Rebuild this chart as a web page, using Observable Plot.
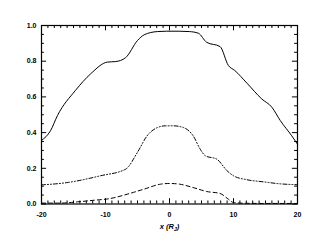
<!DOCTYPE html>
<html><head><meta charset="utf-8">
<script src="https://cdn.jsdelivr.net/npm/d3@7"></script>
<script src="https://cdn.jsdelivr.net/npm/@observablehq/plot@0.6"></script>
<style>body{margin:0;background:#fff}</style>
</head><body><div id="c"></div>
<script>
const solidX = [-20,-18.6,-17.5,-14.7,-12.3,-9.7,-8.4,-6.85,-5.0,-3.95,-1.9,-0.5,1.5,3.1,4.5,5.8,7.9,9.2,10.2,12.1,14.4,16.0,17.3,19.1,20];
const solidY = [0.356,0.41,0.496,0.636,0.73,0.795,0.798,0.82,0.916,0.948,0.966,0.968,0.968,0.966,0.957,0.906,0.882,0.776,0.748,0.677,0.589,0.542,0.468,0.382,0.335];
const dotDashX = [-20,-16,-10.8,-6.85,-5,-3.5,-1.9,-0.6,0.6,2.2,3.7,4.8,5.6,7.4,9.0,10.0,12.1,14.7,17.3,20];
const dotDashY = [0.107,0.12,0.158,0.195,0.29,0.382,0.428,0.438,0.438,0.428,0.382,0.307,0.27,0.251,0.186,0.158,0.136,0.124,0.113,0.108];
const dashX = [-20,-17,-14.4,-11.8,-9.2,-6.6,-4,-1.4,0,1.6,3.7,5.8,7.9,9.2,10,12,15,18,20];
const dashY = [0.005,0.005,0.012,0.021,0.031,0.055,0.083,0.111,0.115,0.111,0.092,0.07,0.059,0.027,0.008,0.004,0.003,0.003,0.003];
const xTicks = [-20,-10,0,10,20];
const yTicks = [0,0.2,0.4,0.6,0.8,1.0];
const xMinor = d3.range(-20,21,1);
const yMinor = d3.range(0,1.001,0.05);
const xLabel = "x (RJ)";

const pts = (xs, ys) => xs.map((x,i)=>({x, y: ys[i]}));
const xMajLen = 0.03, xMinLen = 0.017, yMajLen = 0.8, yMinLen = 0.45;

const chart = Plot.plot({
  width: 332, height: 245,
  marginLeft: 41, marginRight: 35, marginTop: 25, marginBottom: 41.5,
  style: {fontFamily: "Liberation Sans, Arial, sans-serif", fontSize: "7px", fontWeight: "bold", background: "#fff", color: "#000"},
  x: {domain: [-20, 20]},
  y: {domain: [0, 1]},
  marks: [
    Plot.frame({stroke: "#000", strokeWidth: 1.2}),
    Plot.ruleX(xMinor, {x: d=>d, y1: 0, y2: d=> xTicks.includes(d) ? xMajLen : xMinLen, stroke: "#000"}),
    Plot.ruleX(xMinor, {x: d=>d, y1: 1, y2: d=> 1 - (xTicks.includes(d) ? xMajLen : xMinLen), stroke: "#000"}),
    Plot.ruleY(yMinor, {y: d=>d, x1: -20, x2: (d,i)=> -20 + (i%4===0 ? yMajLen : yMinLen), stroke: "#000"}),
    Plot.ruleY(yMinor, {y: d=>d, x1: 20, x2: (d,i)=> 20 - (i%4===0 ? yMajLen : yMinLen), stroke: "#000"}),
    Plot.axisX(xTicks, {tickSize: 0, tickPadding: 8, label: null, tickFormat: d=>String(d)}),
    Plot.axisY(yTicks, {tickSize: 0, tickPadding: 5, label: null, tickFormat: d3.format(".1f")}),
    Plot.line(pts(solidX, solidY), {x: "x", y: "y", stroke: "#000", strokeWidth: 1, curve: "monotone-x"}),
    Plot.line(pts(dotDashX, dotDashY), {x: "x", y: "y", stroke: "#000", strokeWidth: 1, strokeDasharray: "4,2,1,2,1,2", curve: "monotone-x"}),
    Plot.line(pts(dashX, dashY), {x: "x", y: "y", stroke: "#000", strokeWidth: 1, strokeDasharray: "4,3", curve: "monotone-x"}),
    Plot.text([xLabel], {frameAnchor: "bottom", dy: 25, text: d=>d, fontStyle: "italic", fontSize: 7.5, fontWeight: "bold", className: "xlab"})
  ]
});
// render J as subscript
d3.select(chart).selectAll("g.xlab text").each(function(){
  const t = d3.select(this);
  t.text(null);
  t.append("tspan").text("x (R");
  t.append("tspan").attr("font-size", 5.5).attr("dy", 1.5).text("J");
  t.append("tspan").attr("dy", -1.5).text(")");
});
document.getElementById("c").appendChild(chart);
</script>
</body></html>
